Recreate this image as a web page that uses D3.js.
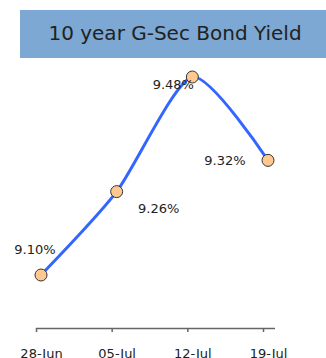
<!DOCTYPE html>
<html><head><meta charset="utf-8">
<script src="https://cdn.jsdelivr.net/npm/d3@7"></script>
<style>html,body{margin:0;padding:0;background:#fff;overflow:hidden}</style>
</head><body>
<svg id="c" width="326" height="358"></svg>
<script>
const titleText = "10 year G-Sec Bond Yield";
const categories = ["28-Jun", "05-Jul", "12-Jul", "19-Jul"];
const yields = [9.10, 9.26, 9.48, 9.32];
const labels = ["9.10%", "9.26%", "9.48%", "9.32%"];

const svg = d3.select("#c");
const font = "DejaVu Sans, Verdana, sans-serif";

// title box
svg.append("rect").attr("x", 20).attr("y", 10).attr("width", 306).attr("height", 48).attr("fill", "#7ca8d3");
svg.append("text").attr("x", 175).attr("y", 40).attr("text-anchor", "middle")
  .attr("font-family", font).attr("font-size", 20).attr("fill", "#222").text(titleText);

const x = d3.scalePoint().domain(categories).range([41, 268]);
const y = d3.scaleLinear().domain([9.10, 9.48]).range([275, 77]);

// axis
const axisG = svg.append("g").attr("transform", "translate(0,328)")
  .call(d3.axisBottom(x).tickSize(4).tickPadding(17));
axisG.select(".domain").attr("d", "M36,0.5H275").attr("stroke", "#666").attr("stroke-width", 1.5);
axisG.selectAll(".tick line").attr("transform", "translate(-5,0)").attr("stroke", "#666").attr("stroke-width", 1.5);
axisG.selectAll(".tick text").attr("font-family", font).attr("font-size", 13).attr("fill", "#222");

const data = categories.map((c, i) => ({c, v: yields[i], l: labels[i]}));

const line = d3.line().x(d => x(d.c)).y(d => y(d.v)).curve(d3.curveCardinal.tension(0.3));
svg.append("path").datum(data).attr("d", line).attr("fill", "none")
  .attr("stroke", "#3366ff").attr("stroke-width", 3);

svg.selectAll("circle.pt").data(data).join("circle").attr("class", "pt")
  .attr("cx", d => x(d.c)).attr("cy", d => y(d.v)).attr("r", 6)
  .attr("fill", "#ffc891").attr("stroke", "#333").attr("stroke-width", 1);

const offs = [[-6, -21, "middle"], [42, 21, "middle"], [-19, 12, "middle"], [-43, 5, "middle"]];
svg.selectAll("text.lbl").data(data).join("text").attr("class", "lbl")
  .attr("x", (d, i) => x(d.c) + offs[i][0])
  .attr("y", (d, i) => y(d.v) + offs[i][1])
  .attr("text-anchor", "middle")
  .attr("font-family", font).attr("font-size", 13).attr("fill", "#222").text(d => d.l);
</script>
</body></html>
